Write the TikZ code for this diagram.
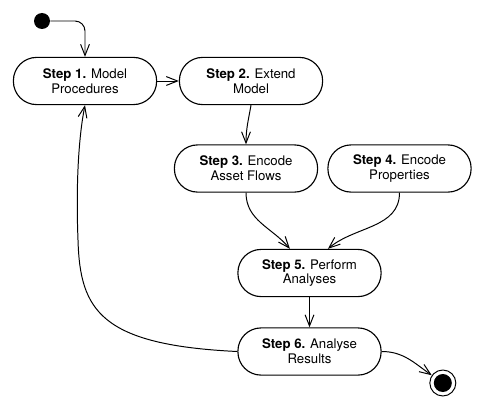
\documentclass[tikz,border=0pt]{standalone}
\usepackage{fontspec}
\setmainfont{TeX Gyre Heros}
\usetikzlibrary{arrows.meta,calc,positioning}

\begin{document}
\begin{tikzpicture}[every node/.style={font=\fontsize{9.4}{10.5}\selectfont},
  stepbox/.style={draw,line width=0.8pt,rounded corners=0.58cm,minimum width=3.58cm,minimum height=1.18cm,align=center,inner sep=0pt},
  flow/.style={-{Straight Barb[length=0.28cm,width=0.22cm]},line width=0.7pt}]
  \useasboundingbox (0,0) rectangle (12.075,10.125);
  \node[circle,fill=black,minimum size=0.4cm,inner sep=0pt] (start) at (1.05,9.6) {};
  \node[stepbox] (s1) at (2.125,8.1) {\textbf{Step 1.} Model\\Procedures};
  \node[stepbox] (s2) at (6.275,8.1) {\textbf{Step 2.} Extend\\Model};
  \node[stepbox] (s3) at (6.15,5.9125) {\textbf{Step 3.} Encode\\Asset Flows};
  \node[stepbox] (s4) at (9.9875,5.9125) {\textbf{Step 4.} Encode\\Properties};
  \node[stepbox] (s5) at (7.7375,3.3) {\textbf{Step 5.} Perform\\Analyses};
  \node[stepbox] (s6) at (7.7375,1.3375) {\textbf{Step 6.} Analyse\\Results};
  \node[circle,draw,line width=0.7pt,minimum size=0.65cm,inner sep=0pt] (stop) at (11.07,0.55) {};
  \fill (stop.center) circle (0.225cm);
  % flows
  \draw[flow,rounded corners=0.25cm] (start) -| (s1);
  \draw[flow] (s1) -- (s2);
  \draw[flow] (s2.south) to[out=-100,in=90] (s3.north);
  \draw[flow] (s3.south) to[out=-90,in=130] ($(s5.north)+(-0.49,0)$);
  \draw[flow] (s4.south) to[out=-90,in=40] ($(s5.north)+(0.46,0)$);
  \draw[flow] (s5) -- (s6);
  \draw[flow] (s6.east) to[out=0,in=145] (stop);
  % back to step 1
  \draw[flow] (s6.west) .. controls (2.5,1.5) and (2.0,2.375) .. (1.95,4.125)
    .. controls (1.9,5.375) and (1.95,6.625) .. (s1.south);
\end{tikzpicture}
\end{document}
